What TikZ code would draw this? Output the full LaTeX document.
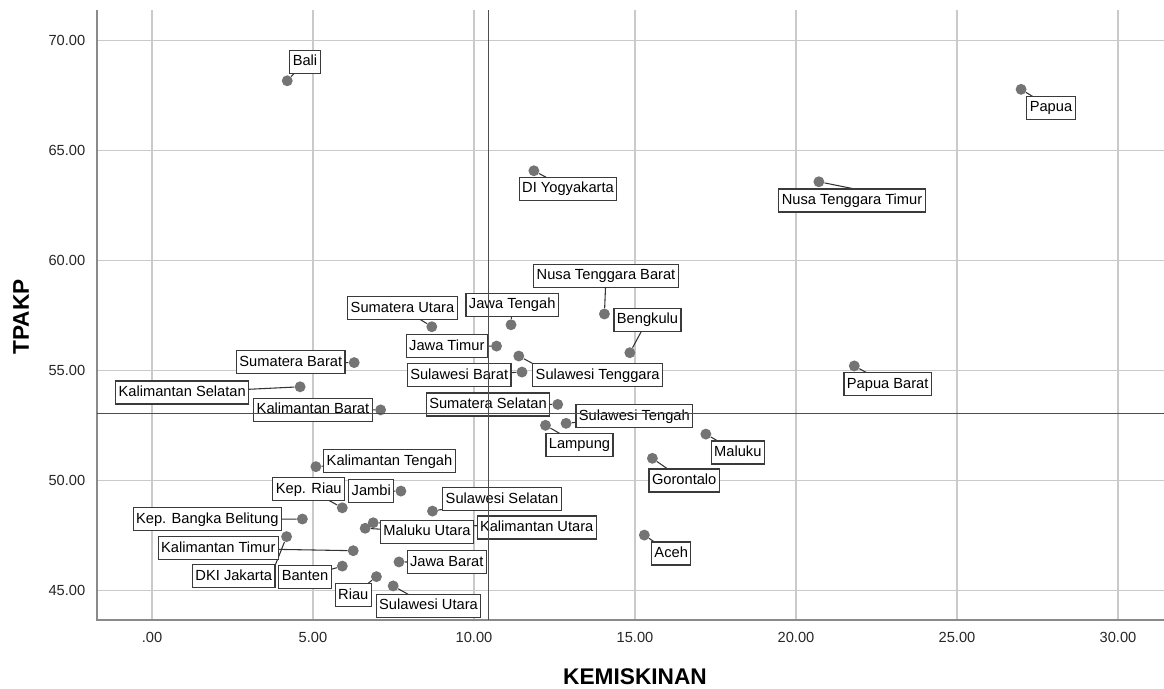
\documentclass[tikz,border=0pt]{standalone}
\usepackage{fontspec}
\setmainfont{Liberation Sans}
\usetikzlibrary{backgrounds}

\definecolor{gridgray}{HTML}{CACACA}
\definecolor{axisgray}{HTML}{8A8A8A}
\definecolor{refgray}{HTML}{4E4E4E}
\definecolor{dotgray}{HTML}{747474}
\definecolor{boxgray}{HTML}{3A3A3A}

\tikzset{
  provdot/.style={circle, fill=dotgray, inner sep=0pt, minimum size=8.2pt},
  provlabel/.style={draw=boxgray, line width=0.9pt, fill=white, inner xsep=2.2pt, inner ysep=3.3pt,
    text height=8.2pt, text depth=2.4pt, font=\fontsize{11}{13}\selectfont},
  leader/.style={draw=black!80, line width=0.8pt},
  ticklabel/.style={font=\fontsize{11}{13}\selectfont, text=black!85},
  axistitle/.style={font=\fontsize{17}{20}\selectfont\bfseries}
}

\begin{document}
\begin{tikzpicture}[x=0.75pt, y=-0.75pt]
  \useasboundingbox (0,0) rectangle (1164,689);

  % grid and axes
  \begin{pgfonlayer}{background}
    \foreach \k in {0,5,...,30}
      \draw[gridgray, line width=0.8pt] ({152+32.2*\k},10) -- ({152+32.2*\k},620);
    \foreach \v in {45,50,...,70}
      \draw[gridgray, line width=0.8pt] (97,{40.3+22*(70-\v)}) -- (1164,{40.3+22*(70-\v)});
    \draw[axisgray, line width=1.1pt] (97,10) -- (97,620) -- (1164,620);
  \end{pgfonlayer}

  \foreach \k/\t in {0/.00, 5/5.00, 10/10.00, 15/15.00, 20/20.00, 25/25.00, 30/30.00}
    \node[ticklabel] (xt\k) at ({152+32.2*\k},637) {\t};
  \foreach \v in {45,50,...,70}
    \node[ticklabel, anchor=east] (yt\v) at (90,{40.3+22*(70-\v)}) {\v.00};

  \node[axistitle] (xtitle) at (635,677) {KEMISKINAN};
  \node[axistitle, rotate=90] (ytitle) at (21,317) {TPAKP};

  % provinces: id / kemiskinan / tpakp / label x / label y / leader anchor / name
  \foreach \id/\kx/\ty/\lx/\ly/\anc/\txt in {
    bali/4.20/68.16/305/61.7/center/Bali,
    diy/11.86/64.07/568/189/center/DI Yogyakarta,
    papua/26.99/67.77/1051/107.7/center/Papua,
    ntt/20.71/63.57/852/200.5/north/Nusa Tenggara Timur,
    sumut/8.69/56.98/402.5/308.3/center/Sumatera Utara,
    jateng/11.15/57.07/512.2/304.7/center/Jawa Tengah,
    ntb/14.05/57.56/606/275.8/center/Nusa Tenggara Barat,
    bengkulu/14.84/55.80/647.5/320/center/Bengkulu,
    jatim/10.70/56.10/446.8/346.3/center/Jawa Timur,
    sumbar/6.28/55.35/290.8/362.3/center/Sumatera Barat,
    kalsel/4.60/54.25/182.2/392.5/center/Kalimantan Selatan,
    sulbar/11.49/54.92/459.2/375.3/center/Sulawesi Barat,
    sultra/11.39/55.65/597.7/375.3/north west/Sulawesi Tenggara,
    papbar/21.81/55.20/887.7/384.2/center/Papua Barat,
    kalbar/7.10/53.20/313/409.8/center/Kalimantan Barat,
    sumsel/12.60/53.45/488/404.5/center/Sumatera Selatan,
    sulteng/12.86/52.59/634.3/416.3/center/Sulawesi Tengah,
    lampung/12.22/52.50/579.5/444.7/center/Lampung,
    maluku/17.20/52.10/737.8/452.5/center/Maluku,
    gorontalo/15.54/51.00/684.2/480.5/center/Gorontalo,
    kalteng/5.09/50.62/389.5/461.3/center/Kalimantan Tengah,
    kepri/5.91/48.75/308.7/489.3/center/Kep. Riau,
    jambi/7.73/49.51/371.3/491.2/center/Jambi,
    sulsel/8.71/48.60/502/499.3/center/Sulawesi Selatan,
    babel/4.67/48.24/207.3/519.3/center/Kep. Bangka Belitung,
    kalut/6.87/48.07/536.7/527.5/center/Kalimantan Utara,
    malut/6.62/47.82/427/532/center/Maluku Utara,
    aceh/15.29/47.51/671.2/553.5/center/Aceh,
    kaltim/6.25/46.80/218.3/548.3/center/Kalimantan Timur,
    dki/4.18/47.44/233.8/576.2/north east/DKI Jakarta,
    jabar/7.67/46.29/446.8/562.2/center/Jawa Barat,
    banten/5.91/46.10/305/577/center/Banten,
    riau/6.97/45.62/353.3/595.3/center/Riau,
    sulut/7.49/45.20/428.5/605.8/center/Sulawesi Utara}{
    \node[provdot] (\id) at ({152+32.2*\kx},{40.3+22*(70-\ty)}) {};
    \node[provlabel] (\id-l) at (\lx,\ly) {\txt};
    \begin{pgfonlayer}{background}
      \draw[leader] (\id) -- (\id-l.\anc);
    \end{pgfonlayer}
  }

  % reference lines
  \draw[refgray, line width=1pt] (488.7,10) -- (488.7,620);
  \draw[refgray, line width=1pt] (97,413.3) -- (1164,413.3);
\end{tikzpicture}
\end{document}
